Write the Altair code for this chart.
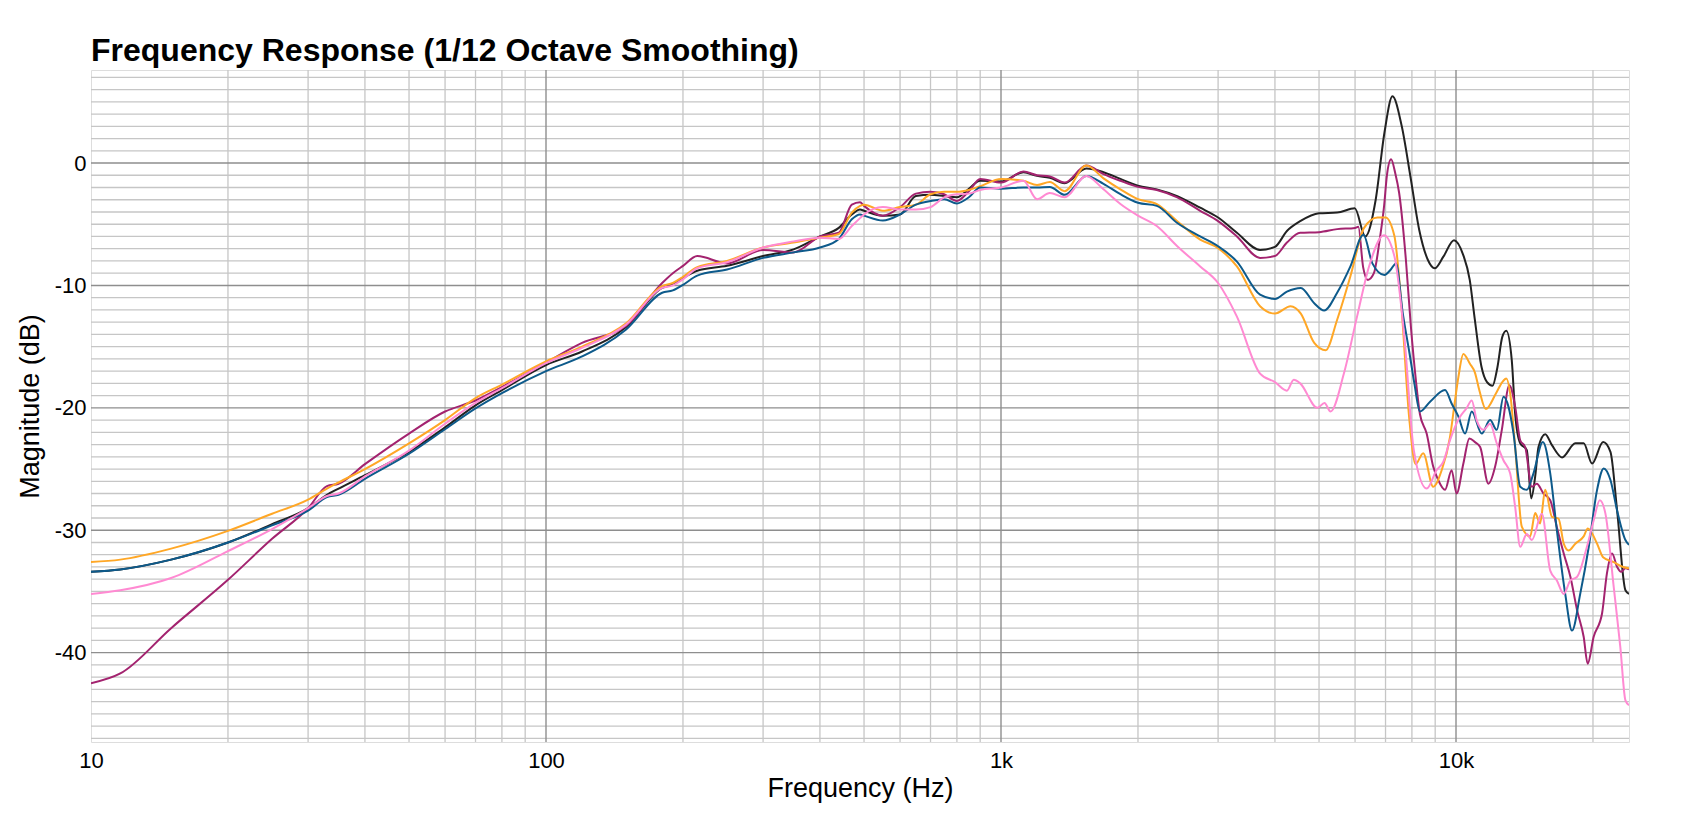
import altair as alt
import pandas as pd

# shared frequency points, 10 Hz .. 4 kHz
freq_mid = [10, 11.6, 15, 20, 25, 30, 33, 35, 40, 50, 60, 70, 80, 100, 120, 150, 180, 190,
            200, 215, 250, 300, 350, 400, 440, 470, 490, 500, 550, 600, 650, 700, 750, 800,
            850, 900, 1000, 1120, 1200, 1280, 1380, 1540, 1680, 1830, 2000, 2200, 2440, 2740,
            3000, 3300, 3710, 4000]

black_mid = [-33.4, -33.2, -32.4, -31.0, -29.5, -28.2, -27.1, -26.6, -25.5, -23.6, -21.6, -19.8,
             -18.55, -16.5, -15.4, -13.4, -10.2, -9.9, -9.4, -8.8, -8.4, -7.6, -7.05, -6.0, -5.3,
             -4.2, -3.8, -3.9, -4.3, -4.2, -2.7, -2.6, -2.7, -2.8, -2.1, -1.45, -1.5, -0.75,
             -1.05, -1.2, -1.65, -0.45, -0.75, -1.3, -1.85, -2.15, -2.7, -3.65, -4.45, -5.7,
             -7.1, -6.85]
magenta_mid = [-42.5, -41.7, -38.0, -34.05, -30.7, -28.2, -26.4, -26.2, -24.6, -22.1, -20.3,
               -19.4, -18.3, -16.3, -14.7, -13.3, -9.8, -9.0, -8.4, -7.6, -8.2, -7.1, -7.3, -6.0,
               -5.7, -3.4, -3.2, -3.5, -4.3, -3.6, -2.5, -2.35, -2.55, -3.1, -2.3, -1.3, -1.6,
               -0.7, -1.0, -1.1, -1.6, -0.2, -0.9, -1.45, -1.95, -2.2, -2.8, -3.9, -4.75, -6.0,
               -7.75, -7.6]
orange_mid = [-32.6, -32.4, -31.5, -30.05, -28.65, -27.5, -26.6, -26.1, -25.0, -22.9, -21.0,
              -19.2, -18.1, -16.2, -15.0, -13.1, -10.05, -9.8, -9.3, -8.5, -8.0, -6.9, -6.5,
              -6.1, -5.8, -4.05, -3.5, -3.4, -3.9, -3.6, -3.4, -2.55, -2.35, -2.35, -2.2, -1.9,
              -1.3, -1.45, -1.8, -1.55, -2.3, -0.2, -1.25, -2.15, -2.95, -3.35, -4.75, -6.25,
              -6.95, -8.45, -11.7, -12.3]
blue_mid = [-33.4, -33.2, -32.4, -31.0, -29.6, -28.4, -27.3, -27.1, -25.8, -23.75, -21.75,
            -20.05, -18.8, -17.0, -15.8, -13.6, -10.6, -10.4, -9.95, -9.2, -8.7, -7.75, -7.3,
            -6.9, -6.2, -4.6, -4.2, -4.3, -4.7, -4.2, -3.4, -3.1, -2.95, -3.3, -2.8, -2.0, -2.1,
            -2.0, -2.0, -1.95, -2.6, -1.05, -1.7, -2.55, -3.25, -3.5, -4.9, -6.0, -6.8, -8.05,
            -10.75, -11.1]
pink_mid = [-35.2, -34.9, -33.9, -31.7, -29.9, -28.2, -27.2, -27.0, -25.6, -23.5, -21.3, -19.6,
            -18.4, -16.35, -15.1, -13.2, -10.2, -10.0, -9.5, -8.6, -8.1, -6.9, -6.4, -6.1, -6.2,
            -5.15, -4.5, -4.2, -3.6, -3.8, -3.8, -3.6, -2.8, -2.55, -2.5, -2.2, -2.0, -1.45,
            -2.95, -2.45, -2.8, -1.05, -2.15, -3.35, -4.3, -5.15, -6.8, -8.45, -9.8, -12.55,
            -17.2, -17.9]

# above 4 kHz each curve has its own points (sharp peaks and notches)
black_hi_hz = [4250, 4545, 5000, 5480, 5990, 6320, 6660, 6960, 7250, 7600, 7940, 8300, 8670,
               8980, 9380, 9900, 10370, 10720, 11000, 11370, 11700, 12030, 12330, 12640, 12900,
               13260, 13490, 13840, 14310, 14630, 14930, 15180, 15710, 16250, 17100, 18290,
               19080, 19910, 21050, 21850, 22600, 23570, 24000]
black_hi_db = [-5.55, -4.75, -4.1, -4.05, -3.7, -6.0, -3.0, 2.45, 5.45, 3.0, -1.1, -5.45, -7.9,
               -8.6, -7.65, -6.3, -7.5, -9.55, -12.8, -16.6, -17.9, -18.2, -16.7, -14.2, -13.7,
               -16.1, -20.5, -22.9, -23.45, -27.4, -25.6, -23.2, -22.15, -23.05, -24.05, -22.9,
               -22.9, -24.55, -22.8, -23.6, -28.4, -34.9, -35.2]

magenta_hi_hz = [4250, 4545, 5000, 5480, 6000, 6100, 6250, 6400, 6600, 6800, 6950, 7050, 7200,
                 7350, 7500, 7760, 7960, 8160, 8330, 8620, 8910, 9140, 9460, 9780, 10030, 10380,
                 10700, 11010, 11300, 11780, 12190, 12610, 13100, 13490, 13840, 14190, 14680,
                 15050, 15570, 16110, 16660, 17250, 17840, 18460, 19080, 19470, 20070, 20940,
                 21460, 22030, 22600, 23050, 23570, 24000]
magenta_hi_db = [-6.5, -5.7, -5.65, -5.4, -5.3, -5.2, -8.5, -9.55, -9.0, -6.2, -3.5, -1.0, 0.3,
                 -0.8, -2.45, -7.9, -13.4, -17.7, -20.5, -22.1, -24.8, -25.9, -26.7, -25.1,
                 -27.0, -24.55, -22.5, -22.8, -23.2, -26.2, -24.8, -21.8, -18.15, -19.9, -22.65,
                 -23.2, -26.45, -26.2, -27.0, -27.55, -29.75, -31.9, -33.8, -36.55, -38.7,
                 -40.9, -38.7, -36.8, -33.55, -31.9, -33.0, -33.4, -33.1, -33.2]

orange_hi_hz = [4330, 4560, 4880, 5170, 5480, 5860, 6280, 6720, 7000, 7320, 7570, 7890, 8150,
                8470, 8910, 9300, 9700, 9950, 10120, 10380, 10730, 11000, 11260, 11630, 12230,
                12640, 12900, 13150, 13490, 13950, 14550, 14930, 15300, 15710, 16250, 16800,
                17250, 17670, 18290, 19080, 19490, 20420, 21050, 22210, 23300, 24000]
orange_hi_db = [-11.7, -12.3, -14.7, -15.3, -12.8, -9.25, -5.3, -4.45, -4.45, -5.95, -11.2,
                -20.8, -24.6, -23.7, -26.45, -25.1, -22.4, -19.4, -17.5, -15.6, -16.4, -17.1,
                -18.6, -20.1, -18.85, -17.9, -17.6, -18.8, -23.2, -29.7, -30.5, -28.6, -29.45,
                -26.7, -28.9, -29.05, -31.1, -31.65, -31.1, -30.5, -29.85, -31.1, -32.2, -32.6,
                -33.0, -33.1]

blue_hi_hz = [4250, 4560, 4880, 5130, 5480, 5860, 6260, 6550, 6960, 7190, 7380, 7640, 7900,
              8100, 8330, 8770, 9460, 9780, 10120, 10470, 10830, 11390, 11880, 12290, 12720,
              13040, 13380, 13840, 14310, 14800, 15520, 16110, 16660, 17380, 17990, 18750,
              19580, 20420, 21120, 21850, 22600, 23570, 24000]
blue_hi_db = [-10.5, -10.2, -11.45, -12.05, -10.6, -8.45, -5.85, -8.2, -9.15, -8.7, -8.2, -12.3,
              -15.5, -18.0, -20.3, -19.5, -18.55, -19.65, -20.7, -22.1, -20.3, -22.1, -21.0,
              -21.8, -19.1, -19.9, -22.1, -26.45, -26.7, -25.35, -22.8, -25.35, -30.0, -35.2,
              -38.2, -35.2, -31.35, -26.7, -24.95, -25.9, -28.4, -30.8, -31.2]

pink_hi_hz = [4250, 4400, 4545, 4960, 5140, 5300, 5670, 6060, 6440, 6940, 7320, 7700, 8080,
              8620, 9060, 9380, 9700, 9950, 10200, 10540, 10830, 11100, 11490, 11880, 12290,
              12720, 13150, 13490, 13840, 14310, 14680, 15440, 16110, 16660, 17250, 17840,
              18460, 19400, 20070, 20700, 21290, 22210, 22970, 23570, 24000]
pink_hi_db = [-18.6, -17.7, -18.0, -20.0, -19.6, -20.3, -17.2, -12.55, -8.45, -5.9, -7.6, -14.2,
              -23.5, -26.6, -25.1, -24.4, -22.65, -21.55, -20.75, -20.05, -19.4, -21.0, -21.8,
              -21.3, -22.9, -24.3, -25.35, -28.1, -31.35, -30.3, -30.8, -28.65, -33.3, -34.1,
              -35.2, -34.1, -33.8, -31.35, -29.2, -27.55, -28.6, -34.6, -39.55, -43.9, -44.3]

# draw order: first is at the bottom
series = [
    ("black", "#222222", black_mid, black_hi_hz, black_hi_db),
    ("magenta", "#a3236f", magenta_mid, magenta_hi_hz, magenta_hi_db),
    ("orange", "#ffa726", orange_mid, orange_hi_hz, orange_hi_db),
    ("blue", "#0d5a8b", blue_mid, blue_hi_hz, blue_hi_db),
    ("pink", "#ff8ad2", pink_mid, pink_hi_hz, pink_hi_db),
]

x_major = [100, 1000, 10000]
x_minor = [20, 30, 40, 50, 60, 70, 80, 90, 200, 300, 400, 500, 600, 700, 800, 900,
           2000, 3000, 4000, 5000, 6000, 7000, 8000, 9000, 20000]
y_major = [-40, -30, -20, -10, 0]
y_minor = [v for v in range(-47, 8) if v % 10 != 0]

X_DOMAIN = [10, 24000]
Y_DOMAIN = [-47.3, 7.6]
FONT = "Liberation Sans"

x_scale = alt.Scale(type="log", domain=X_DOMAIN, nice=False)
y_scale = alt.Scale(domain=Y_DOMAIN, nice=False, zero=False)

x_axis = alt.Axis(
    title="Frequency (Hz)", values=[10, 100, 1000, 10000], grid=False, ticks=False,
    domain=False, labelFlush=False,
    labelExpr="datum.value >= 1000 ? (datum.value / 1000) + 'k' : datum.value + ''",
    labelFont=FONT, labelFontSize=22, labelColor="black", labelPadding=8,
    titleFont=FONT, titleFontSize=27, titleFontWeight="normal", titleColor="black",
    titlePadding=4,
)
y_axis = alt.Axis(
    title="Magnitude (dB)", values=y_major, grid=False, ticks=False, domain=False,
    labelFlush=False, labelExpr="datum.value + ''",
    labelFont=FONT, labelFontSize=22, labelColor="black", labelPadding=5,
    titleFont=FONT, titleFontSize=27, titleFontWeight="normal", titleColor="black",
    titlePadding=10,
)

X = alt.X("f:Q", scale=x_scale, axis=x_axis)
Y = alt.Y("db:Q", scale=y_scale, axis=y_axis)


def vrules(values, color, width):
    return alt.Chart(pd.DataFrame({"f": values})).mark_rule(
        color=color, strokeWidth=width
    ).encode(x=X)


def hrules(values, color, width):
    return alt.Chart(pd.DataFrame({"db": values})).mark_rule(
        color=color, strokeWidth=width
    ).encode(y=Y)


layers = [
    vrules(x_minor, "#c6c6c6", 1.3),
    hrules(y_minor, "#c6c6c6", 1.3),
    vrules(x_major, "#8e8e8e", 1.4),
    hrules(y_major, "#8e8e8e", 1.4),
]

for name, color, mid, hi_hz, hi_db in series:
    df = pd.DataFrame({"f": freq_mid + hi_hz, "db": mid + hi_db})
    layers.append(
        alt.Chart(df).mark_line(color=color, strokeWidth=2, interpolate="monotone", clip=True).encode(
            x=X, y=Y, order="f:Q",
        )
    )

chart = alt.layer(*layers).properties(
    width=1538,
    height=672,
    autosize=alt.AutoSizeParams(type="none"),
    padding={"left": 83, "top": 62, "right": 51, "bottom": 69},
    title=alt.TitleParams(
        "Frequency Response (1/12 Octave Smoothing)",
        anchor="start", frame="group", font=FONT, fontSize=32, fontWeight="bold",
        color="black", baseline="alphabetic", offset=8, dy=32,
    ),
).configure_view(
    stroke="#8e8e8e", strokeWidth=2
).configure(background="white")

chart.save("out.html", embed_options={"renderer": "svg", "actions": False})
